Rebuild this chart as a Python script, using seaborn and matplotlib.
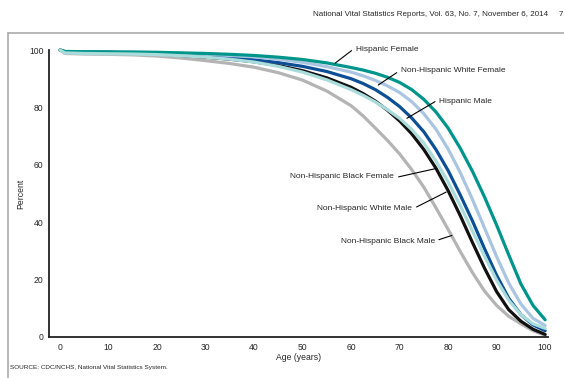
import numpy as np
import pandas as pd
import matplotlib
matplotlib.use('Agg')
import matplotlib.pyplot as plt
import seaborn as sns
from matplotlib.lines import Line2D

# Percent surviving to each age
ages = [0, 1, 5, 10, 15, 20, 25, 30, 35, 40, 45, 50, 55, 60, 62.5, 65, 67.5, 70, 72.5, 75,
        77.5, 80, 82.5, 85, 87.5, 90, 92.5, 95, 97.5, 100]

hispanic_female = [100, 99.5, 99.4, 99.35, 99.3, 99.2, 99.0, 98.8, 98.5, 98.1, 97.5, 96.7, 95.5, 93.9,
                   93.0, 91.9, 90.5, 88.7, 86.2, 82.8, 78.4, 72.8, 65.8, 57.8, 48.8, 39.0, 28.6,
                   18.5, 11.0, 6.0]
nh_white_female = [100, 99.4, 99.35, 99.3, 99.2, 99.1, 98.8, 98.5, 98.1, 97.6, 96.8, 95.7, 94.2, 92.3,
                   91.0, 89.4, 87.5, 85.2, 82.0, 77.8, 72.4, 65.5, 57.3, 48.0, 38.0, 28.0, 18.8,
                   11.5, 6.5, 4.0]
hispanic_male = [100, 99.4, 99.3, 99.2, 99.0, 98.7, 98.2, 97.7, 97.2, 96.6, 95.6, 94.3, 92.5, 90.0,
                 88.3, 86.2, 83.5, 80.3, 76.3, 71.5, 65.3, 58.0, 49.5, 40.5, 30.8, 21.5, 13.5,
                 7.8, 4.2, 2.2]
nh_black_female = [100, 99.0, 98.8, 98.7, 98.6, 98.4, 98.0, 97.5, 96.8, 95.8, 94.3, 92.3, 89.6, 86.2,
                   84.2, 81.9, 79.2, 76.2, 72.3, 67.5, 61.3, 54.0, 45.8, 37.0, 28.2, 19.8, 12.8,
                   7.8, 4.6, 3.0]
nh_white_male = [100, 99.4, 99.3, 99.2, 99.0, 98.7, 98.1, 97.5, 96.8, 95.9, 94.6, 92.8, 90.3, 87.0,
                 84.8, 82.2, 79.0, 75.3, 70.8, 65.3, 58.8, 51.0, 42.3, 33.0, 24.0, 15.8, 9.5,
                 5.5, 2.7, 0.9]
nh_black_male = [100, 98.8, 98.6, 98.5, 98.3, 97.9, 97.2, 96.3, 95.3, 94.0, 92.1, 89.5, 85.7, 80.6,
                 77.0, 72.8, 68.5, 63.8, 58.3, 52.2, 45.0, 37.5, 29.8, 22.5, 16.0, 11.0, 7.2,
                 4.6, 2.2, 0.6]

groups = ['Non-Hispanic Black Male', 'Non-Hispanic White Male', 'Hispanic Male',
          'Non-Hispanic White Female', 'Hispanic Female', 'Non-Hispanic Black Female']
series = [nh_black_male, nh_white_male, hispanic_male, nh_white_female, hispanic_female, nh_black_female]
colors = ['#b4b4b4', '#111111', '#0c4f97', '#a9c5e1', '#00958a', '#a9dcdb']

df = pd.concat([pd.DataFrame({'age': ages, 'pct': s, 'group': g}) for g, s in zip(groups, series)])

sns.set_style('white')
plt.rcParams['font.family'] = ['Liberation Sans', 'DejaVu Sans']

fig = plt.figure(figsize=(5.64, 3.78), dpi=100)
ax = fig.add_axes([0.0869, 0.1085, 0.8848, 0.7592])

sns.lineplot(data=df, x='age', y='pct', hue='group', hue_order=groups,
             palette=dict(zip(groups, colors)), linewidth=2.3, legend=False, ax=ax)
for ln in ax.lines:
    ln.set_clip_on(False)
    ln.set_solid_capstyle('round')
    ln.set_solid_joinstyle('round')

ax.set_xlim(-2.27, 100.6)
ax.set_ylim(0, 100)
ax.set_xticks(range(0, 101, 10))
ax.set_xticks(range(5, 100, 10), minor=True)
ax.set_yticks(range(0, 101, 20))
ax.tick_params(axis='both', direction='in', labelsize=6.2, color='#222222', width=1, pad=4)
ax.tick_params(axis='x', which='major', length=5)
ax.tick_params(axis='x', which='minor', length=2.5, width=0.8)
ax.tick_params(axis='y', length=4)
for side in ['top', 'right']:
    ax.spines[side].set_visible(False)
for side in ['left', 'bottom']:
    ax.spines[side].set_color('#222222')
    ax.spines[side].set_linewidth(1.3)

ax.set_xlabel('Age (years)', fontsize=6.2, labelpad=1)
ax.set_ylabel('Percent', fontsize=6.2)
ax.yaxis.set_label_coords(-0.048, 0.5)

# labels with leader lines
right_labels = [('Hispanic Female', 61.0, 100.3, (60.1, 99.8), (56.7, 95.4)),
                ('Non-Hispanic White Female', 70.2, 92.8, (69.4, 92.1), (65.6, 87.8)),
                ('Hispanic Male', 78.1, 82.2, (77.3, 82.0), (71.5, 76.2))]
left_labels = [('Non-Hispanic Black Female', 68.7, 56.0, (69.8, 55.8), (77.5, 58.7)),
               ('Non-Hispanic White Male', 72.6, 44.7, (73.5, 45.3), (79.6, 50.5)),
               ('Non-Hispanic Black Male', 77.3, 33.4, (78.1, 33.9), (80.8, 35.4))]
for txt, tx, ty, p0, p1 in right_labels:
    ax.text(tx, ty, txt, fontsize=6, ha='left', va='center', clip_on=False)
    ax.plot([p0[0], p1[0]], [p0[1], p1[1]], color='black', lw=0.8, clip_on=False)
for txt, tx, ty, p0, p1 in left_labels:
    ax.text(tx, ty, txt, fontsize=6, ha='right', va='center', clip_on=False)
    ax.plot([p0[0], p1[0]], [p0[1], p1[1]], color='black', lw=0.8, clip_on=False)

# page frame and header
fig.add_artist(Line2D([8 / 564, 8 / 564], [0, 1 - 33 / 378], color='#aaaaaa', lw=1.2))
fig.add_artist(Line2D([8 / 564, 1], [1 - 33 / 378, 1 - 33 / 378], color='#aaaaaa', lw=1.2))
fig.text(548 / 564, 1 - 14 / 378, 'National Vital Statistics Reports, Vol. 63, No. 7, November 6, 2014',
         ha='right', va='center', fontsize=5.8)
fig.text(559 / 564, 1 - 14 / 378, '7', ha='left', va='center', fontsize=5.8)
fig.text(10 / 564, 1 - 368 / 378, 'SOURCE: CDC/NCHS, National Vital Statistics System.',
         ha='left', va='center', fontsize=4.6)

fig.savefig('out.png', dpi=100)
